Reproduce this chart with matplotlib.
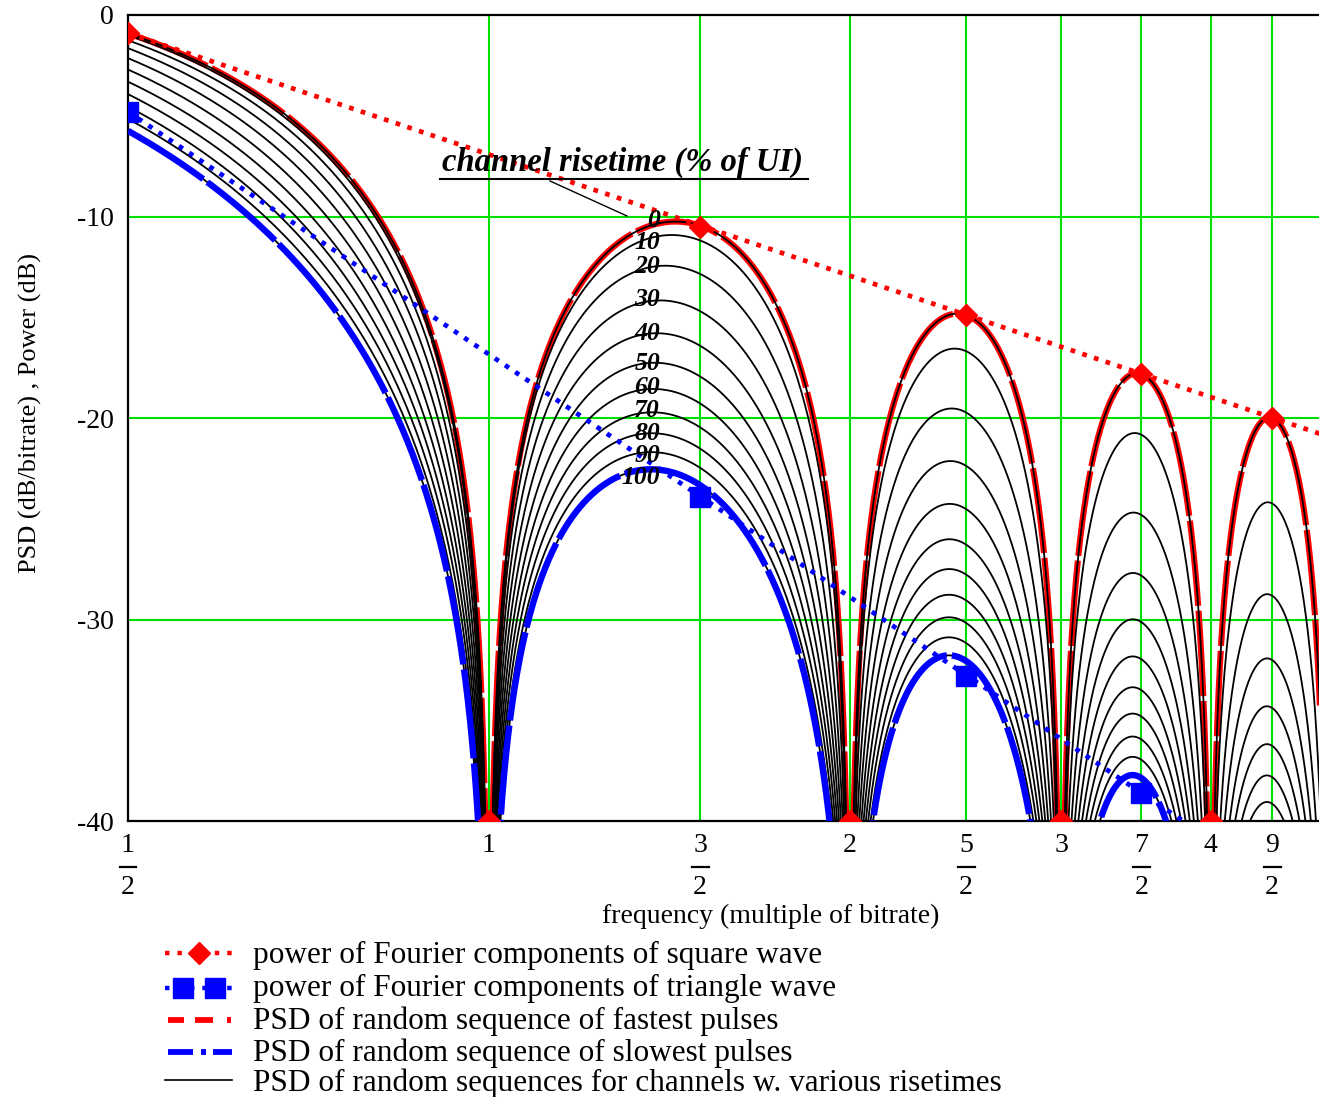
import numpy as np
import matplotlib
matplotlib.use("Agg")
import matplotlib.pyplot as plt
from matplotlib.ticker import NullLocator, FixedLocator

plt.rcParams['font.family'] = ['Liberation Serif', 'DejaVu Serif']

# ---------------- data ----------------
risetimes_pct = [0, 10, 20, 30, 40, 50, 60, 70, 80, 90, 100]   # channel risetime (% of UI)
risetime_label_db = [-10.2, -11.3, -12.5, -14.1, -15.8, -17.3, -18.5, -19.65, -20.75, -21.85, -22.95]
harm_freqs = [0.5, 1.0, 1.5, 2.0, 2.5, 3.0, 3.5, 4.0, 4.5]        # multiples of bitrate
square_power_db = [-0.9, -40, -10.5, -40, -14.9, -40, -17.8, -40, -20.0]
triangle_freqs = [0.5, 1.5, 2.5, 3.5]
triangle_power_db = [-4.8, -23.9, -32.8, -38.6]
x_ticks = [0.5, 1, 1.5, 2, 2.5, 3, 3.5, 4, 4.5, 5]
x_tick_labels = [('1', '2'), '1', ('3', '2'), '2', ('5', '2'), '3', ('7', '2'), '4', ('9', '2'), '5']
y_ticks = [0, -10, -20, -30, -40]
y_tick_labels = ['0', '-10', '-20', '-30', '-40']
grid_x = [1, 1.5, 2, 2.5, 3, 3.5, 4, 4.5]
grid_y = [-10, -20, -30]
legend_labels = ['power of Fourier components of square wave',
                 'power of Fourier components of triangle wave',
                 'PSD of random sequence of fastest pulses',
                 'PSD of random sequence of slowest pulses',
                 'PSD of random sequences for channels w. various risetimes']

# ---------------- model curves ----------------
f = np.linspace(0.5, 5.0, 8000)


def psd_db(freq, rise_ui):
    """PSD of a random NRZ sequence through a 1-pole channel with 10-90% risetime rise_ui."""
    tau = rise_ui / np.log(9.0)
    p = 2.0 * np.sinc(freq) ** 2 / (1.0 + (2 * np.pi * freq * tau) ** 2)
    return 10 * np.log10(np.maximum(p, 1e-30))


square_env = square_power_db[0] - 20 * np.log10(f / harm_freqs[0])
triangle_env = triangle_power_db[0] - 40 * np.log10(f / triangle_freqs[0])

# ---------------- figure ----------------
W, H, DPI = 1319, 1097, 100
fig = plt.figure(figsize=(W / DPI, H / DPI), dpi=DPI)
L, R, T, B = 128, 1327, 15, 821
ax = fig.add_axes([L / W, 1 - B / H, (R - L) / W, (B - T) / H])
ax.set_xscale('log')
ax.set_xlim(0.5, 5.0)
ax.set_ylim(-40, 0)

for s in ['left', 'top', 'bottom']:
    ax.spines[s].set_linewidth(1.6)
ax.spines['right'].set_visible(False)

green = '#00e000'
for gx in grid_x:
    ax.axvline(gx, color=green, lw=1.5, zorder=0.5)
for gy in grid_y:
    ax.axhline(gy, color=green, lw=1.5, zorder=0.5)

# fastest pulses (red dashed) under the black r=0 curve
ax.plot(f, psd_db(f, 0.0), color='red', lw=4.4, ls=(0, (14, 0.8)), zorder=2)
# channels with various risetimes
for r in risetimes_pct:
    ax.plot(f, psd_db(f, r / 100.0), color='black', lw=1.3, zorder=3)
# slowest pulses (blue dash-dot)
ax.plot(f, psd_db(f, 1.0), color='blue', lw=4.6, ls=(0, (14, 0.8)), zorder=4)

# envelopes of Fourier components
ax.plot(f, square_env, color='red', lw=3.4, ls=(0, (1, 1.6)), zorder=5)
ax.plot(f, triangle_env, color='blue', lw=3.4, ls=(0, (1, 1.6)), zorder=5)
ax.plot(triangle_freqs, triangle_power_db, ls='none', marker='s', ms=15,
        color='blue', zorder=6)
ax.plot(harm_freqs, square_power_db, ls='none', marker='D', ms=11,
        color='red', zorder=7)

# ticks
ax.xaxis.set_major_locator(NullLocator())
ax.xaxis.set_minor_locator(NullLocator())
ax.yaxis.set_major_locator(FixedLocator(y_ticks))
ax.yaxis.set_minor_locator(NullLocator())
ax.set_yticklabels(y_tick_labels)
ax.tick_params(axis='y', length=0, pad=10, labelsize=20)

xt = ax.get_xaxis_transform()
ah = B - T
y_num = (B - 846) / ah
y_bar = (B - 867) / ah
y_den = (B - 888) / ah
for xv, lab in zip(x_ticks, x_tick_labels):
    if isinstance(lab, tuple):
        ax.text(xv, y_num, lab[0], transform=xt, ha='center', va='center',
                fontsize=20, clip_on=False)
        ax.text(xv, y_den, lab[1], transform=xt, ha='center', va='center',
                fontsize=20, clip_on=False)
        k = 2 ** (8.5 / 361.0)
        ax.plot([xv / k, xv * k], [y_bar, y_bar], transform=xt, color='black',
                lw=1.6, clip_on=False)
    else:
        ax.text(xv, y_num, lab, transform=xt, ha='center', va='center',
                fontsize=20, clip_on=False)

# curve labels
lab_x = 1.389
for r, yv in zip(risetimes_pct, risetime_label_db):
    ax.text(lab_x, yv, str(r), ha='right', va='center', fontsize=18.5,
            fontweight='bold', fontstyle='italic', zorder=8)

# axis labels
fig.text(30 / W, 1 - 413 / H, 'PSD (dB/bitrate) , Power (dB)', rotation=90,
         ha='center', va='center', fontsize=19)
fig.text(771 / W, 1 - 916 / H, 'frequency (multiple of bitrate)',
         ha='center', va='center', fontsize=20)

# overlay in pixel coordinates for annotation and legend
ov = fig.add_axes([0, 0, 1, 1], zorder=10)
ov.set_xlim(0, W)
ov.set_ylim(H, 0)
ov.axis('off')
ov.patch.set_alpha(0)

ov.text(623, 162, 'channel risetime (% of UI)', ha='center', va='center',
        fontsize=23.5, fontweight='bold', fontstyle='italic')
ov.plot([440, 808], [179, 179], color='black', lw=1.5)
ov.plot([550, 627], [181, 216], color='black', lw=1.0)

rows = [955, 988, 1021, 1053, 1083]
tx = 253
# row 1: red dotted with diamond
ov.plot([165, 232], [rows[0] - 2] * 2, color='red', lw=3.2, ls=(0, (1, 1.8)))
ov.plot([199], [rows[0] - 2], marker='D', ms=11, color='red')
# row 2: blue with two squares
ov.plot([165, 232], [rows[1]] * 2, color='blue', lw=3.2, ls=(0, (1, 1.8)))
ov.plot([183, 215], [rows[1]] * 2, ls='none', marker='s', ms=15, color='blue')
# row 3: red dashed
for a, b in [(168, 184), (195, 213), (227, 231)]:
    ov.plot([a, b], [rows[2] - 1] * 2, color='red', lw=4.2, solid_capstyle='butt')
# row 4: blue dash-dot
for a, b in [(168, 193), (201, 206), (213, 232)]:
    ov.plot([a, b], [rows[3] - 1] * 2, color='blue', lw=4.2, solid_capstyle='butt')
# row 5: black
ov.plot([165, 232], [rows[4] - 3] * 2, color='black', lw=1.2)
for yy, lab in zip(rows, legend_labels):
    ov.text(tx, yy, lab, ha='left', va='center', fontsize=22.5)

fig.savefig('out.png', dpi=DPI)
